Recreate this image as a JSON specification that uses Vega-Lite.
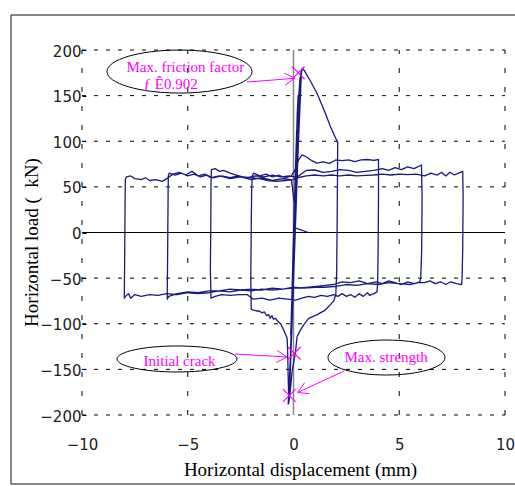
{
 "$schema": "https://vega.github.io/schema/vega-lite/v6.json",
 "width": 504, "height": 469,
 "autosize": {"type": "none"},
 "padding": {"left": 11, "top": 15, "right": 0, "bottom": 2},
 "background": "white",
 "config": {"view": {"stroke": null}},
 "datasets": {
  "hgrid": [{"g":-200},{"g":-150},{"g":-100},{"g":-50},{"g":50},{"g":100},{"g":150},{"g":200}],
  "vgrid": [{"g":-10},{"g":-5},{"g":5},{"g":10}],
  "path": [
{"i":0,"d":0,"f":0},{"i":1,"d":0.08,"f":60},{"i":2,"d":0.15,"f":112},{"i":3,"d":0.1,"f":60},{"i":4,"d":-0.02,"f":-20},{"i":5,"d":-0.1,"f":-92},{"i":6,"d":-0.13,"f":-112},{"i":7,"d":-0.05,"f":-50},{"i":8,"d":0.05,"f":30},{"i":9,"d":0.18,"f":132},
{"i":10,"d":0.22,"f":150},{"i":11,"d":0.15,"f":90},{"i":12,"d":0,"f":-20},{"i":13,"d":-0.12,"f":-130},{"i":14,"d":-0.18,"f":-162},{"i":15,"d":-0.1,"f":-100},{"i":16,"d":0.05,"f":20},{"i":17,"d":0.25,"f":150},{"i":18,"d":0.3,"f":166},{"i":19,"d":0.2,"f":100},
{"i":20,"d":0,"f":-40},{"i":21,"d":-0.15,"f":-150},{"i":22,"d":-0.2,"f":-176},{"i":23,"d":-0.12,"f":-120},{"i":24,"d":0.05,"f":0},{"i":25,"d":0.28,"f":160},{"i":26,"d":0.36,"f":176},{"i":27,"d":0.25,"f":110},{"i":28,"d":0.02,"f":-40},{"i":29,"d":-0.18,"f":-172},
{"i":30,"d":-0.23,"f":-187},{"i":31,"d":-0.1,"f":-110},
{"i":31.1,"d":0.0,"f":-60},{"i":31.2,"d":-0.2,"f":-180},{"i":31.3,"d":-0.25,"f":-188},{"i":31.4,"d":-0.05,"f":-90},{"i":31.5,"d":0.15,"f":60},{"i":31.6,"d":0.33,"f":172},{"i":31.7,"d":0.38,"f":178},{"i":31.8,"d":0.2,"f":80},{"i":31.9,"d":-0.1,"f":-120},
{"i":32,"d":0.1,"f":40},{"i":33,"d":0.3,"f":168},{"i":34,"d":0.42,"f":180},{"i":35,"d":0.5,"f":178},{"i":36,"d":0.8,"f":166},{"i":37,"d":1.12,"f":152},{"i":38,"d":1.45,"f":134},{"i":39,"d":1.75,"f":116},
{"i":40,"d":2.0,"f":103},{"i":41,"d":2.09,"f":99},{"i":42,"d":2.08,"f":60},{"i":43,"d":2.06,"f":0},{"i":44,"d":2.04,"f":-45},{"i":45,"d":2.0,"f":-68},{"i":46,"d":1.9,"f":-75},{"i":47,"d":1.75,"f":-79},{"i":48,"d":1.5,"f":-85},{"i":49,"d":1.12,"f":-90},
{"i":50,"d":0.72,"f":-94},{"i":51,"d":0.49,"f":-101},{"i":52,"d":0.33,"f":-107},{"i":53,"d":0.17,"f":-114},{"i":54,"d":0.09,"f":-132},{"i":55,"d":-0.06,"f":-151},{"i":56,"d":-0.17,"f":-177},{"i":57,"d":-0.22,"f":-186},{"i":58,"d":-0.25,"f":-160},{"i":59,"d":-0.28,"f":-128},
{"i":60,"d":-0.3,"f":-116},{"i":61,"d":-0.46,"f":-107},{"i":62,"d":-0.61,"f":-100},{"i":63,"d":-0.75,"f":-97},{"i":64,"d":-0.85,"f":-94},{"i":65,"d":-0.95,"f":-95},{"i":66,"d":-1.02,"f":-91},{"i":67,"d":-1.1,"f":-94},{"i":68,"d":-1.18,"f":-90},{"i":69,"d":-1.28,"f":-91},
{"i":70,"d":-1.38,"f":-87},{"i":71,"d":-1.5,"f":-88},{"i":72,"d":-1.62,"f":-86},{"i":73,"d":-1.75,"f":-86},{"i":74,"d":-1.9,"f":-85},{"i":75,"d":-2.0,"f":-84},{"i":76,"d":-2.02,"f":-50},{"i":77,"d":-2.0,"f":0},{"i":78,"d":-1.98,"f":45},{"i":79,"d":-1.95,"f":62},
{"i":80,"d":-1.88,"f":65},{"i":81,"d":-1.6,"f":62},{"i":82,"d":-1.3,"f":64},{"i":83,"d":-1.0,"f":61},{"i":84,"d":-0.7,"f":63},{"i":85,"d":-0.4,"f":60},{"i":86,"d":-0.1,"f":62},{"i":87,"d":0.1,"f":70},{"i":88,"d":0.25,"f":80},{"i":89,"d":0.4,"f":85},
{"i":90,"d":0.6,"f":83},{"i":91,"d":0.85,"f":79},{"i":92,"d":1.1,"f":76},{"i":93,"d":1.4,"f":77.5},{"i":94,"d":1.7,"f":75.8},{"i":95,"d":2.0,"f":79.5},{"i":96,"d":2.3,"f":78.7},{"i":97,"d":2.6,"f":79.5},{"i":98,"d":2.9,"f":77.6},{"i":99,"d":3.2,"f":79.5},
{"i":100,"d":3.5,"f":80},{"i":101,"d":3.8,"f":79},{"i":102,"d":4.02,"f":80},{"i":103,"d":4.02,"f":40},{"i":104,"d":4.0,"f":-20},{"i":105,"d":3.98,"f":-55},{"i":106,"d":3.95,"f":-65},{"i":107,"d":3.8,"f":-67},{"i":108,"d":3.6,"f":-69},{"i":109,"d":3.5,"f":-66},
{"i":110,"d":3.3,"f":-70},{"i":111,"d":3.1,"f":-67},{"i":112,"d":2.9,"f":-71},{"i":113,"d":2.7,"f":-68},{"i":114,"d":2.5,"f":-70},{"i":115,"d":2.3,"f":-67},{"i":116,"d":2.1,"f":-70},{"i":117,"d":1.9,"f":-68},{"i":118,"d":1.6,"f":-70},{"i":119,"d":1.3,"f":-69},
{"i":120,"d":1.0,"f":-71},{"i":121,"d":0.7,"f":-70},{"i":122,"d":0.4,"f":-72},{"i":123,"d":0.1,"f":-74},{"i":124,"d":-0.3,"f":-73},{"i":125,"d":-0.7,"f":-72},{"i":126,"d":-1.1,"f":-74},{"i":127,"d":-1.5,"f":-72},{"i":128,"d":-1.9,"f":-73},{"i":129,"d":-2.2,"f":-68},
{"i":130,"d":-2.6,"f":-68},{"i":131,"d":-3.0,"f":-69},{"i":132,"d":-3.4,"f":-68},{"i":133,"d":-3.7,"f":-70},{"i":134,"d":-3.9,"f":-72},{"i":135,"d":-3.93,"f":-40},{"i":136,"d":-3.91,"f":10},{"i":137,"d":-3.9,"f":55},{"i":138,"d":-3.88,"f":69},{"i":139,"d":-3.7,"f":70},
{"i":140,"d":-3.5,"f":67},{"i":141,"d":-3.3,"f":68},{"i":142,"d":-3.0,"f":65},{"i":143,"d":-2.7,"f":63},{"i":144,"d":-2.4,"f":61},{"i":145,"d":-2.0,"f":60},{"i":146,"d":-1.6,"f":59},{"i":147,"d":-1.2,"f":57},{"i":148,"d":-0.8,"f":56},{"i":149,"d":-0.4,"f":57},
{"i":150,"d":0.0,"f":58},{"i":151,"d":0.3,"f":63},{"i":152,"d":0.6,"f":68},{"i":153,"d":1.0,"f":68.5},{"i":154,"d":1.4,"f":66},{"i":155,"d":1.8,"f":67},{"i":156,"d":2.2,"f":69},{"i":157,"d":2.6,"f":68},{"i":158,"d":3.0,"f":66},{"i":159,"d":3.4,"f":67},
{"i":160,"d":3.8,"f":68},{"i":161,"d":4.2,"f":70},{"i":162,"d":4.5,"f":68},{"i":163,"d":4.8,"f":71},{"i":164,"d":5.1,"f":69},{"i":165,"d":5.4,"f":72},{"i":166,"d":5.7,"f":70},{"i":167,"d":6.05,"f":74},{"i":168,"d":6.08,"f":40},{"i":169,"d":6.06,"f":-20},
{"i":170,"d":6.02,"f":-48},{"i":171,"d":5.98,"f":-54},{"i":172,"d":5.7,"f":-56},{"i":173,"d":5.4,"f":-54},{"i":174,"d":5.1,"f":-57},{"i":175,"d":4.8,"f":-55},{"i":176,"d":4.5,"f":-53},{"i":177,"d":4.2,"f":-56},{"i":178,"d":3.9,"f":-54},{"i":179,"d":3.5,"f":-56},
{"i":180,"d":3.1,"f":-53},{"i":181,"d":2.7,"f":-55},{"i":182,"d":2.3,"f":-54},{"i":183,"d":1.9,"f":-57},{"i":184,"d":1.5,"f":-58},{"i":185,"d":1.1,"f":-59},{"i":186,"d":0.7,"f":-60},{"i":187,"d":0.3,"f":-61},{"i":188,"d":-0.1,"f":-61},{"i":189,"d":-0.5,"f":-62},
{"i":190,"d":-1.0,"f":-61},{"i":191,"d":-1.5,"f":-63},{"i":192,"d":-2.0,"f":-62},{"i":193,"d":-2.5,"f":-63},{"i":194,"d":-3.0,"f":-62},{"i":195,"d":-3.5,"f":-64},{"i":196,"d":-4.0,"f":-64},{"i":197,"d":-4.5,"f":-66},{"i":198,"d":-5.0,"f":-65},{"i":199,"d":-5.5,"f":-67},
{"i":200,"d":-5.9,"f":-70},{"i":201,"d":-5.97,"f":-73},{"i":202,"d":-5.95,"f":-20},{"i":203,"d":-5.93,"f":40},{"i":204,"d":-5.92,"f":62},{"i":205,"d":-5.88,"f":65},{"i":206,"d":-5.6,"f":63},{"i":207,"d":-5.3,"f":65},{"i":208,"d":-5.0,"f":62},{"i":209,"d":-4.7,"f":64},
{"i":210,"d":-4.4,"f":61},{"i":211,"d":-4.1,"f":63},{"i":212,"d":-3.8,"f":60},{"i":213,"d":-3.4,"f":62},{"i":214,"d":-3.0,"f":60},{"i":215,"d":-2.6,"f":62},{"i":216,"d":-2.2,"f":60},{"i":217,"d":-1.8,"f":62},{"i":218,"d":-1.4,"f":61},{"i":219,"d":-1.0,"f":63},
{"i":220,"d":-0.6,"f":61},{"i":221,"d":-0.2,"f":62},{"i":222,"d":0.2,"f":60},{"i":223,"d":0.6,"f":62},{"i":224,"d":1.0,"f":63},{"i":225,"d":1.4,"f":62},{"i":226,"d":1.8,"f":63},{"i":227,"d":2.2,"f":62},{"i":228,"d":2.6,"f":63},{"i":229,"d":3.0,"f":62},
{"i":230,"d":3.4,"f":62.5},{"i":231,"d":3.8,"f":63},{"i":232,"d":4.2,"f":64},{"i":233,"d":4.6,"f":63},{"i":234,"d":5.0,"f":64},{"i":235,"d":5.4,"f":63.5},{"i":236,"d":5.8,"f":64},{"i":237,"d":6.2,"f":62},{"i":238,"d":6.5,"f":65},{"i":239,"d":6.8,"f":63},
{"i":240,"d":7.0,"f":66},{"i":241,"d":7.2,"f":62},{"i":242,"d":7.4,"f":66},{"i":243,"d":7.6,"f":63},{"i":244,"d":7.8,"f":65},{"i":245,"d":8.0,"f":67},{"i":246,"d":8.02,"f":40},{"i":247,"d":8.0,"f":-20},{"i":248,"d":7.97,"f":-50},{"i":249,"d":7.95,"f":-57},
{"i":250,"d":7.7,"f":-56},{"i":251,"d":7.45,"f":-54},{"i":252,"d":7.2,"f":-57},{"i":253,"d":6.95,"f":-54},{"i":254,"d":6.7,"f":-56},{"i":255,"d":6.45,"f":-53},{"i":256,"d":6.2,"f":-55},{"i":257,"d":5.9,"f":-55},{"i":258,"d":5.5,"f":-57},{"i":259,"d":5.0,"f":-56},
{"i":260,"d":4.5,"f":-55},{"i":261,"d":4.0,"f":-57},{"i":262,"d":3.5,"f":-56},{"i":263,"d":3.0,"f":-58},{"i":264,"d":2.5,"f":-57},{"i":265,"d":2.0,"f":-59},{"i":266,"d":1.5,"f":-60},{"i":267,"d":1.0,"f":-60},{"i":268,"d":0.5,"f":-61},{"i":269,"d":0.0,"f":-60},
{"i":270,"d":-0.5,"f":-62},{"i":271,"d":-1.0,"f":-63},{"i":272,"d":-1.5,"f":-62},{"i":273,"d":-2.0,"f":-64},{"i":274,"d":-2.5,"f":-63},{"i":275,"d":-3.0,"f":-65},{"i":276,"d":-3.5,"f":-64},{"i":277,"d":-4.0,"f":-66},{"i":278,"d":-4.5,"f":-67},{"i":279,"d":-5.0,"f":-66},
{"i":280,"d":-5.5,"f":-68},{"i":281,"d":-6.0,"f":-67},{"i":282,"d":-6.4,"f":-69},{"i":283,"d":-6.8,"f":-68},{"i":284,"d":-7.2,"f":-70},{"i":285,"d":-7.5,"f":-68},{"i":286,"d":-7.7,"f":-72},{"i":287,"d":-7.8,"f":-67},{"i":288,"d":-7.95,"f":-70},{"i":289,"d":-8.0,"f":-72},
{"i":290,"d":-7.98,"f":-20},{"i":291,"d":-7.96,"f":40},{"i":292,"d":-7.95,"f":58},{"i":293,"d":-7.9,"f":61},{"i":294,"d":-7.7,"f":62},{"i":295,"d":-7.5,"f":59},{"i":296,"d":-7.2,"f":58},{"i":297,"d":-7.0,"f":60},{"i":298,"d":-6.8,"f":57},{"i":299,"d":-6.5,"f":58},
{"i":300,"d":-6.2,"f":56},{"i":301,"d":-6.0,"f":59},{"i":302,"d":-5.7,"f":64},{"i":303,"d":-5.4,"f":66},{"i":304,"d":-5.1,"f":63},{"i":305,"d":-4.8,"f":67},{"i":306,"d":-4.5,"f":62},{"i":307,"d":-4.2,"f":64},{"i":308,"d":-3.9,"f":60},{"i":309,"d":-3.5,"f":62},
{"i":310,"d":-3.0,"f":59},{"i":311,"d":-2.5,"f":61},{"i":312,"d":-2.0,"f":58},{"i":313,"d":-1.5,"f":60},{"i":314,"d":-1.0,"f":57},{"i":315,"d":-0.5,"f":59},{"i":316,"d":-0.1,"f":58},{"i":317,"d":0.05,"f":30},{"i":318,"d":0.08,"f":5},{"i":319,"d":0.7,"f":0}
  ],
  "arrows": [
   {"x":-2.199,"y":164.9,"x2":0.071,"y2":169.0},
   {"x":-0.440,"y":174.7,"x2":0.071,"y2":169.0},
   {"x":-0.397,"y":161.5,"x2":0.071,"y2":169.0},
   {"x":-2.766,"y":-133.2,"x2":-0.307,"y2":-136.4},
   {"x":-0.780,"y":-129.2,"x2":-0.307,"y2":-136.4},
   {"x":-0.813,"y":-142.4,"x2":-0.307,"y2":-136.4},
   {"x":2.402,"y":-151.8,"x2":0.199,"y2":-175.3},
   {"x":0.762,"y":-176.6,"x2":0.199,"y2":-175.3},
   {"x":0.525,"y":-164.6,"x2":0.199,"y2":-175.3}
  ],
  "crosses": [{"x":0.227,"y":175.1},{"x":0.038,"y":-132.4},{"x":-0.199,"y":-178.6}],
  "notes": [
   {"x":-7.90,"y":176.2,"t":"Max. friction factor"},
   {"x":-7.09,"y":156.9,"t":"ƒ Ê0.902"},
   {"x":-7.09,"y":-146.3,"t":"Initial crack"},
   {"x":2.41,"y":-141.6,"t":"Max. strength"}
  ]
 },
 "layer": [
  {"data": {"name": "hgrid"},
   "mark": {"type": "rule", "color": "#000", "strokeWidth": 1, "strokeDash": [4, 8]},
   "encoding": {
    "y": {"field": "g", "type": "quantitative",
      "scale": {"domain": [-275.61, 238.36], "nice": false, "zero": false},
      "axis": {"title": "Horizontal load (\u00a0\u00a0kN)", "values": [-200,-150,-100,-50,0,50,100,150,200], "orient": "left", "offset": -75, "domain": false, "grid": false, "ticks": true, "tickSize": 4, "tickColor": "#000", "labelPadding": 1, "labelOffset": 1, "labelFlush": false, "labelOverlap": false, "labelFont": "DejaVu Sans", "labelFontSize": 15, "labelColor": "#222", "titleFont": "Liberation Serif", "titleFontSize": 19, "titleFontWeight": "normal", "titleColor": "#000", "titleAngle": -90, "titleAlign": "center", "titleBaseline": "alphabetic", "titleX": -49, "titleY": 227}},
    "x": {"datum": -10, "type": "quantitative",
      "scale": {"domain": [-13.357, 10.473], "nice": false, "zero": false},
      "axis": {"title": "Horizontal displacement (mm)", "values": [-10,-5,0,5,10], "orient": "bottom", "offset": -69, "domain": false, "grid": false, "ticks": false, "labelPadding": 22, "labelFlush": false, "labelOverlap": false, "labelFont": "DejaVu Sans", "labelFontSize": 15, "labelColor": "#222", "titleFont": "Liberation Serif", "titleFontSize": 19, "titleFontWeight": "normal", "titleColor": "#000", "titleAlign": "center", "titleBaseline": "alphabetic", "titleX": 289, "titleY": 60}},
    "x2": {"datum": 10}
   }},
  {"data": {"values": [{"b": -275.61}, {"b": 238.36}]},
   "mark": {"type": "rule", "color": "#111", "strokeWidth": 1},
   "encoding": {
    "y": {"field": "b", "type": "quantitative"},
    "x": {"datum": -13.357, "type": "quantitative"},
    "x2": {"datum": 10.473}
   }},
  {"data": {"values": [{"b": -13.357}]},
   "mark": {"type": "rule", "color": "#111", "strokeWidth": 1},
   "encoding": {
    "x": {"field": "b", "type": "quantitative"},
    "y": {"datum": -275.61, "type": "quantitative"},
    "y2": {"datum": 238.36}
   }},
  {"data": {"name": "vgrid"},
   "mark": {"type": "rule", "color": "#000", "strokeWidth": 1, "strokeDash": [5, 14]},
   "encoding": {
    "x": {"field": "g", "type": "quantitative"},
    "y": {"datum": -200, "type": "quantitative"},
    "y2": {"datum": 200}
   }},
  {"data": {"values": [{"z": 0}]},
   "mark": {"type": "rule", "color": "#000", "strokeWidth": 1},
   "encoding": {
    "y": {"field": "z", "type": "quantitative"},
    "x": {"datum": -10, "type": "quantitative"},
    "x2": {"datum": 10}
   }},
  {"data": {"values": [{"z": 0}]},
   "mark": {"type": "rule", "color": "#888", "strokeWidth": 1.5},
   "encoding": {
    "x": {"field": "z", "type": "quantitative"},
    "y": {"datum": -200, "type": "quantitative"},
    "y2": {"datum": 200}
   }},
  {"data": {"name": "path"},
   "mark": {"type": "line", "color": "#1a1a80", "strokeWidth": 1.3, "strokeJoin": "round"},
   "encoding": {
    "x": {"field": "d", "type": "quantitative"},
    "y": {"field": "f", "type": "quantitative"},
    "order": {"field": "i", "type": "quantitative"}
   }},
  {"data": {"values": [{"x": -5.390, "y": 176.4}]},
   "mark": {"type": "point", "filled": false, "opacity": 1, "stroke": "#000", "strokeWidth": 1, "size": 21025, "shape": "M-1,0A1,0.2966,0,1,1,1,0A1,0.2966,0,1,1,-1,0Z"},
   "encoding": {"x": {"field": "x", "type": "quantitative"}, "y": {"field": "y", "type": "quantitative"}}},
  {"data": {"values": [{"x": -5.508, "y": -138.6}]},
   "mark": {"type": "point", "filled": false, "opacity": 1, "stroke": "#000", "strokeWidth": 1, "size": 14400, "shape": "M-1,0A1,0.2167,0,1,1,1,0A1,0.2167,0,1,1,-1,0Z"},
   "encoding": {"x": {"field": "x", "type": "quantitative"}, "y": {"field": "y", "type": "quantitative"}}},
  {"data": {"values": [{"x": 4.397, "y": -137.0}]},
   "mark": {"type": "point", "filled": false, "opacity": 1, "stroke": "#000", "strokeWidth": 1, "size": 13689, "shape": "M-1,0A1,0.2991,0,1,1,1,0A1,0.2991,0,1,1,-1,0Z"},
   "encoding": {"x": {"field": "x", "type": "quantitative"}, "y": {"field": "y", "type": "quantitative"}}},
  {"data": {"name": "arrows"},
   "mark": {"type": "rule", "color": "#ff00ff", "strokeWidth": 1},
   "encoding": {
    "x": {"field": "x", "type": "quantitative"},
    "y": {"field": "y", "type": "quantitative"},
    "x2": {"field": "x2"},
    "y2": {"field": "y2"}
   }},
  {"data": {"name": "crosses"},
   "mark": {"type": "point", "filled": false, "opacity": 1, "stroke": "#ff00ff", "strokeWidth": 1.2, "size": 160, "shape": "M-1,-1L1,1M-1,1L1,-1"},
   "encoding": {"x": {"field": "x", "type": "quantitative"}, "y": {"field": "y", "type": "quantitative"}}},
  {"data": {"name": "notes"},
   "mark": {"type": "text", "align": "left", "baseline": "alphabetic", "font": "Liberation Serif", "fontSize": 15, "color": "#ff00ff"},
   "encoding": {
    "x": {"field": "x", "type": "quantitative"},
    "y": {"field": "y", "type": "quantitative"},
    "text": {"field": "t"}
   }}
 ]
}
